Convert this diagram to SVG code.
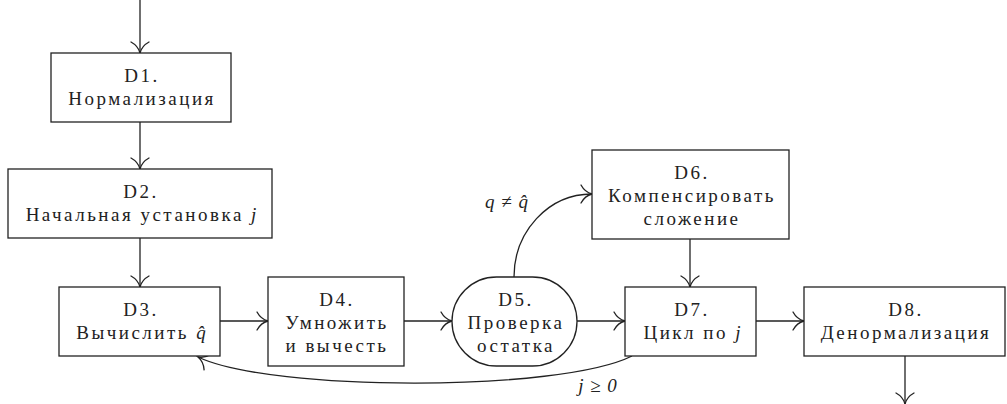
<svg xmlns="http://www.w3.org/2000/svg" width="1007" height="404" viewBox="0 0 1007 404">
<defs>
<marker id="arr" markerUnits="userSpaceOnUse" markerWidth="16" markerHeight="22" viewBox="-13 -11 16 22" refX="0" refY="0" orient="auto">
<path d="M -11 -9 C -8 -3.5 -3 -0.8 0 0 C -3 0.8 -8 3.5 -11 9" fill="none" stroke="#222" stroke-width="1.3" stroke-linecap="round"/>
</marker>
<style>
.box{fill:#fff;stroke:#222;stroke-width:1.3}
.c{fill:none;stroke:#222;stroke-width:1.3;marker-end:url(#arr)}
text{font-family:"Liberation Serif","DejaVu Serif",serif;font-size:19px;fill:#222;text-anchor:middle;letter-spacing:2.5px}
.m{font-style:italic;letter-spacing:1px}
.v{font-style:italic;letter-spacing:0}
</style>
</defs>
<rect width="1007" height="404" fill="#fff"/>
<g id="connectors">
<path class="c" d="M140 0 V53"/>
<path class="c" d="M140 122 V169"/>
<path class="c" d="M140 238 V287"/>
<path class="c" d="M220 321 H268"/>
<path class="c" d="M404 321 H452"/>
<path class="c" d="M577 321 H625"/>
<path class="c" d="M756 321 H804"/>
<path class="c" d="M690 239 V287"/>
<path class="c" d="M905 356 V404"/>
<path class="c" d="M514 277 C514 232 548 194 592 194"/>
<path class="c" d="M632 356 C560 392 272 392 198 357"/>
<text x="507" y="208" class="m">q ≠ q̂</text>
<text x="598" y="392" class="m">j ≥ 0</text>
</g>
<g id="D1"><rect class="box" x="51" y="53" width="180" height="69"/><text x="142" y="82">D1.</text><text x="142" y="105">Нормализация</text></g>
<g id="D2"><rect class="box" x="8" y="169" width="264" height="69"/><text x="141" y="198">D2.</text><text x="141" y="221">Начальная установка <tspan class="v">j</tspan></text></g>
<g id="D3"><rect class="box" x="59" y="287" width="161" height="69"/><text x="141" y="316">D3.</text><text x="141" y="339">Вычислить <tspan class="v">q̂</tspan></text></g>
<g id="D4"><rect class="box" x="268" y="277" width="136" height="89"/><text x="337" y="306">D4.</text><text x="337" y="329">Умножить</text><text x="337" y="352">и вычесть</text></g>
<g id="D5"><rect class="box" x="452" y="277" width="125" height="89" rx="44.5" ry="44.5"/><text x="516" y="306">D5.</text><text x="516" y="329">Проверка</text><text x="516" y="352">остатка</text></g>
<g id="D6"><rect class="box" x="592" y="150" width="197" height="89"/><text x="692" y="179">D6.</text><text x="692" y="202">Компенсировать</text><text x="692" y="225">сложение</text></g>
<g id="D7"><rect class="box" x="625" y="287" width="131" height="69"/><text x="692" y="316">D7.</text><text x="692" y="339">Цикл по <tspan class="v">j</tspan></text></g>
<g id="D8"><rect class="box" x="804" y="287" width="201" height="69"/><text x="906" y="316">D8.</text><text x="906" y="339">Денормализация</text></g>
</svg>
